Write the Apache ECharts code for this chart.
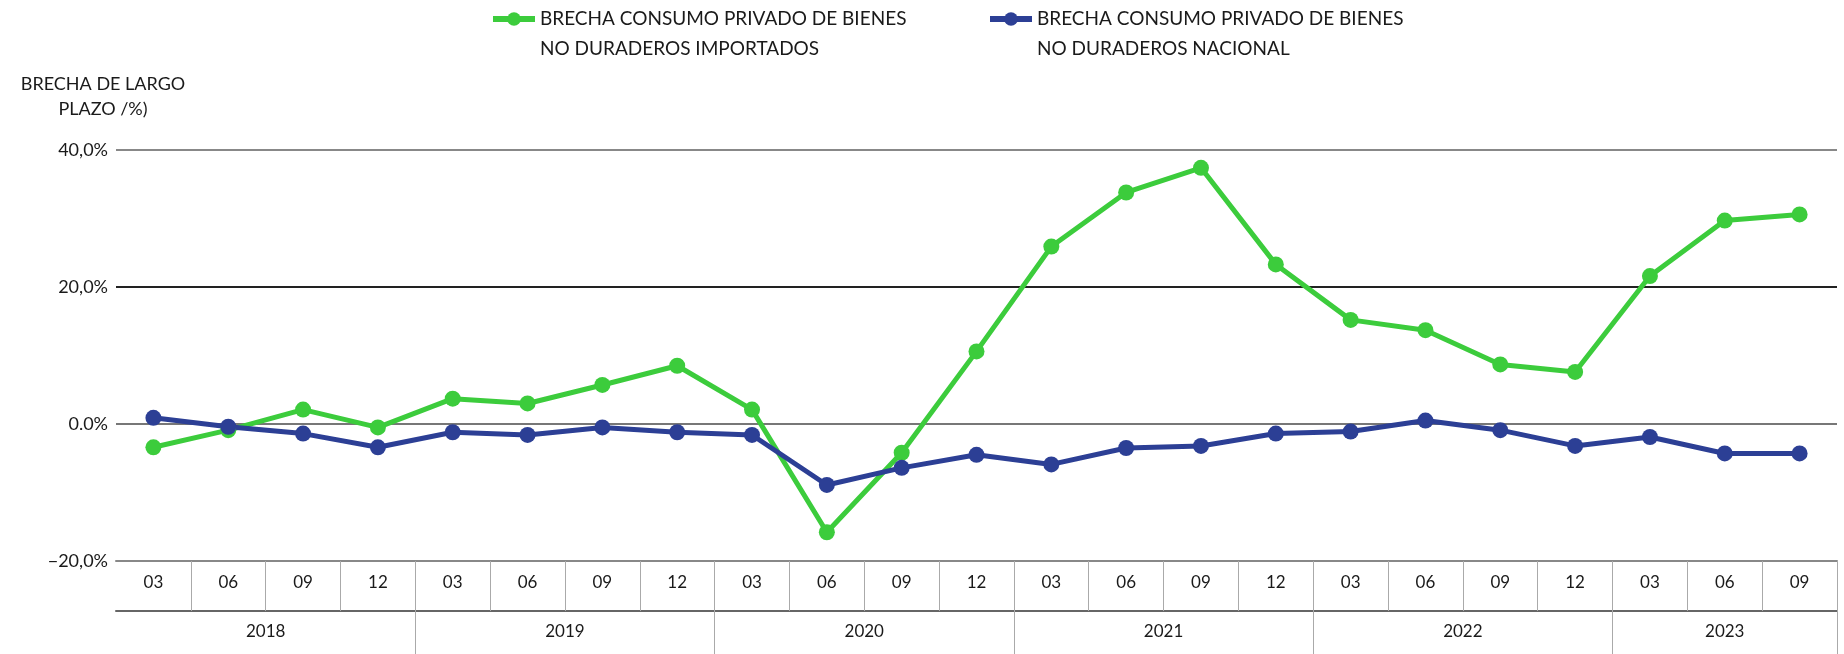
<!DOCTYPE html>
<html>
<head>
<meta charset="utf-8">
<script src="https://cdn.jsdelivr.net/npm/echarts@6/dist/echarts.min.js"></script>
<style>
  html, body { margin: 0; padding: 0; background: #fff; }
  #main { width: 1844px; height: 654px; }
</style>
</head>
<body>
<div id="main"></div>
<script>
// quarters (month of quarter end) and years
var months = ['03','06','09','12','03','06','09','12','03','06','09','12',
              '03','06','09','12','03','06','09','12','03','06','09'];
var years = ['2018','2019','2020','2021','2022','2023'];
var quartersPerYear = [4, 4, 4, 4, 4, 3];

var importados = [-3.4, -0.9, 2.1, -0.5, 3.7, 3.0, 5.7, 8.5, 2.1, -15.8, -4.2, 10.6,
                  25.9, 33.8, 37.4, 23.3, 15.2, 13.7, 8.7, 7.6, 21.6, 29.7, 30.6];
var nacional = [0.9, -0.4, -1.4, -3.4, -1.2, -1.6, -0.5, -1.2, -1.6, -8.9, -6.4, -4.5,
                -5.9, -3.5, -3.2, -1.4, -1.1, 0.5, -0.9, -3.2, -1.9, -4.3, -4.3];

var nameImp = 'BRECHA CONSUMO PRIVADO DE BIENES NO DURADEROS IMPORTADOS';
var nameNac = 'BRECHA CONSUMO PRIVADO DE BIENES NO DURADEROS NACIONAL';
var yLabels = {'40': '40,0%', '20': '20,0%', '0': '0.0%', '-20': '\u221220,0%'};

// second level axis: half-steps on the category boundaries
var halfSteps = [];
var yearLabelAt = {};
var yearTickAt = {};
var pos = 0;
for (var i = 0; i <= months.length * 2; i++) halfSteps.push(String(i));
for (var y = 0; y < years.length; y++) {
    yearLabelAt[pos + quartersPerYear[y]] = years[y];
    pos += quartersPerYear[y] * 2;
    yearTickAt[pos] = true;
}

var font = 'Lato';
var chart = echarts.init(document.getElementById('main'));

function legendFor(name, left) {
    return {
        data: [name],
        left: left,
        top: -26,
        padding: 0,
        itemWidth: 42,
        itemHeight: 17,
        lineStyle: { width: 6 },
        formatter: function (n) { return '\n' + n.replace(' NO ', '\nNO '); },
        textStyle: { fontFamily: font, fontSize: 19, color: '#1a1a1a', lineHeight: 30 }
    };
}

chart.setOption({
    animation: false,
    title: {
        text: 'BRECHA DE LARGO\nPLAZO /%)',
        left: 98,
        top: 67,
        textAlign: 'center',
        textStyle: { fontFamily: font, fontSize: 18, fontWeight: 'normal', color: '#1a1a1a', lineHeight: 25, align: 'center' }
    },
    legend: [legendFor(nameImp, 490), legendFor(nameNac, 987)],
    grid: { left: 116, right: 7, top: 150, bottom: 93, outerBoundsMode: 'none' },
    xAxis: [{
        type: 'category',
        data: months,
        boundaryGap: true,
        position: 'bottom',
        axisLine: { show: true, onZero: false, lineStyle: { color: '#888', width: 2 } },
        axisTick: {
            show: true, length: 50, inside: false,
            interval: function (idx) { return idx !== 0; },
            lineStyle: { color: '#aaa', width: 1 }
        },
        axisLabel: { interval: 0, margin: 13, fontFamily: font, fontSize: 17, color: '#1a1a1a' }
    }, {
        type: 'category',
        data: halfSteps,
        boundaryGap: false,
        position: 'bottom',
        offset: 50,
        axisLine: { show: true, onZero: false, lineStyle: { color: '#666', width: 2 } },
        axisTick: {
            show: true, length: 45,
            interval: function (idx) { return !!yearTickAt[idx]; },
            lineStyle: { color: '#aaa', width: 1 }
        },
        axisLabel: {
            interval: function (idx) { return yearLabelAt[idx] !== undefined; },
            formatter: function (v) { return yearLabelAt[v] || ''; },
            margin: 12, fontFamily: font, fontSize: 17, color: '#1a1a1a'
        }
    }],
    yAxis: {
        type: 'value',
        min: -20,
        max: 40,
        interval: 20,
        axisLine: { show: false },
        axisTick: { show: false },
        axisLabel: {
            margin: 8, fontFamily: font, fontSize: 18, color: '#1a1a1a',
            formatter: function (v) { return yLabels[String(v)]; }
        },
        splitLine: { lineStyle: { color: ['#888', '#777', '#222', '#888'], width: 2 } }
    },
    series: [{
        name: nameImp,
        type: 'line',
        data: importados,
        symbol: 'circle',
        symbolSize: 16,
        lineStyle: { color: '#3ccc3c', width: 5 },
        itemStyle: { color: '#3ccc3c' }
    }, {
        name: nameNac,
        type: 'line',
        data: nacional,
        symbol: 'circle',
        symbolSize: 16,
        lineStyle: { color: '#2c3f95', width: 5 },
        itemStyle: { color: '#2c3f95' }
    }]
});
</script>
</body>
</html>
